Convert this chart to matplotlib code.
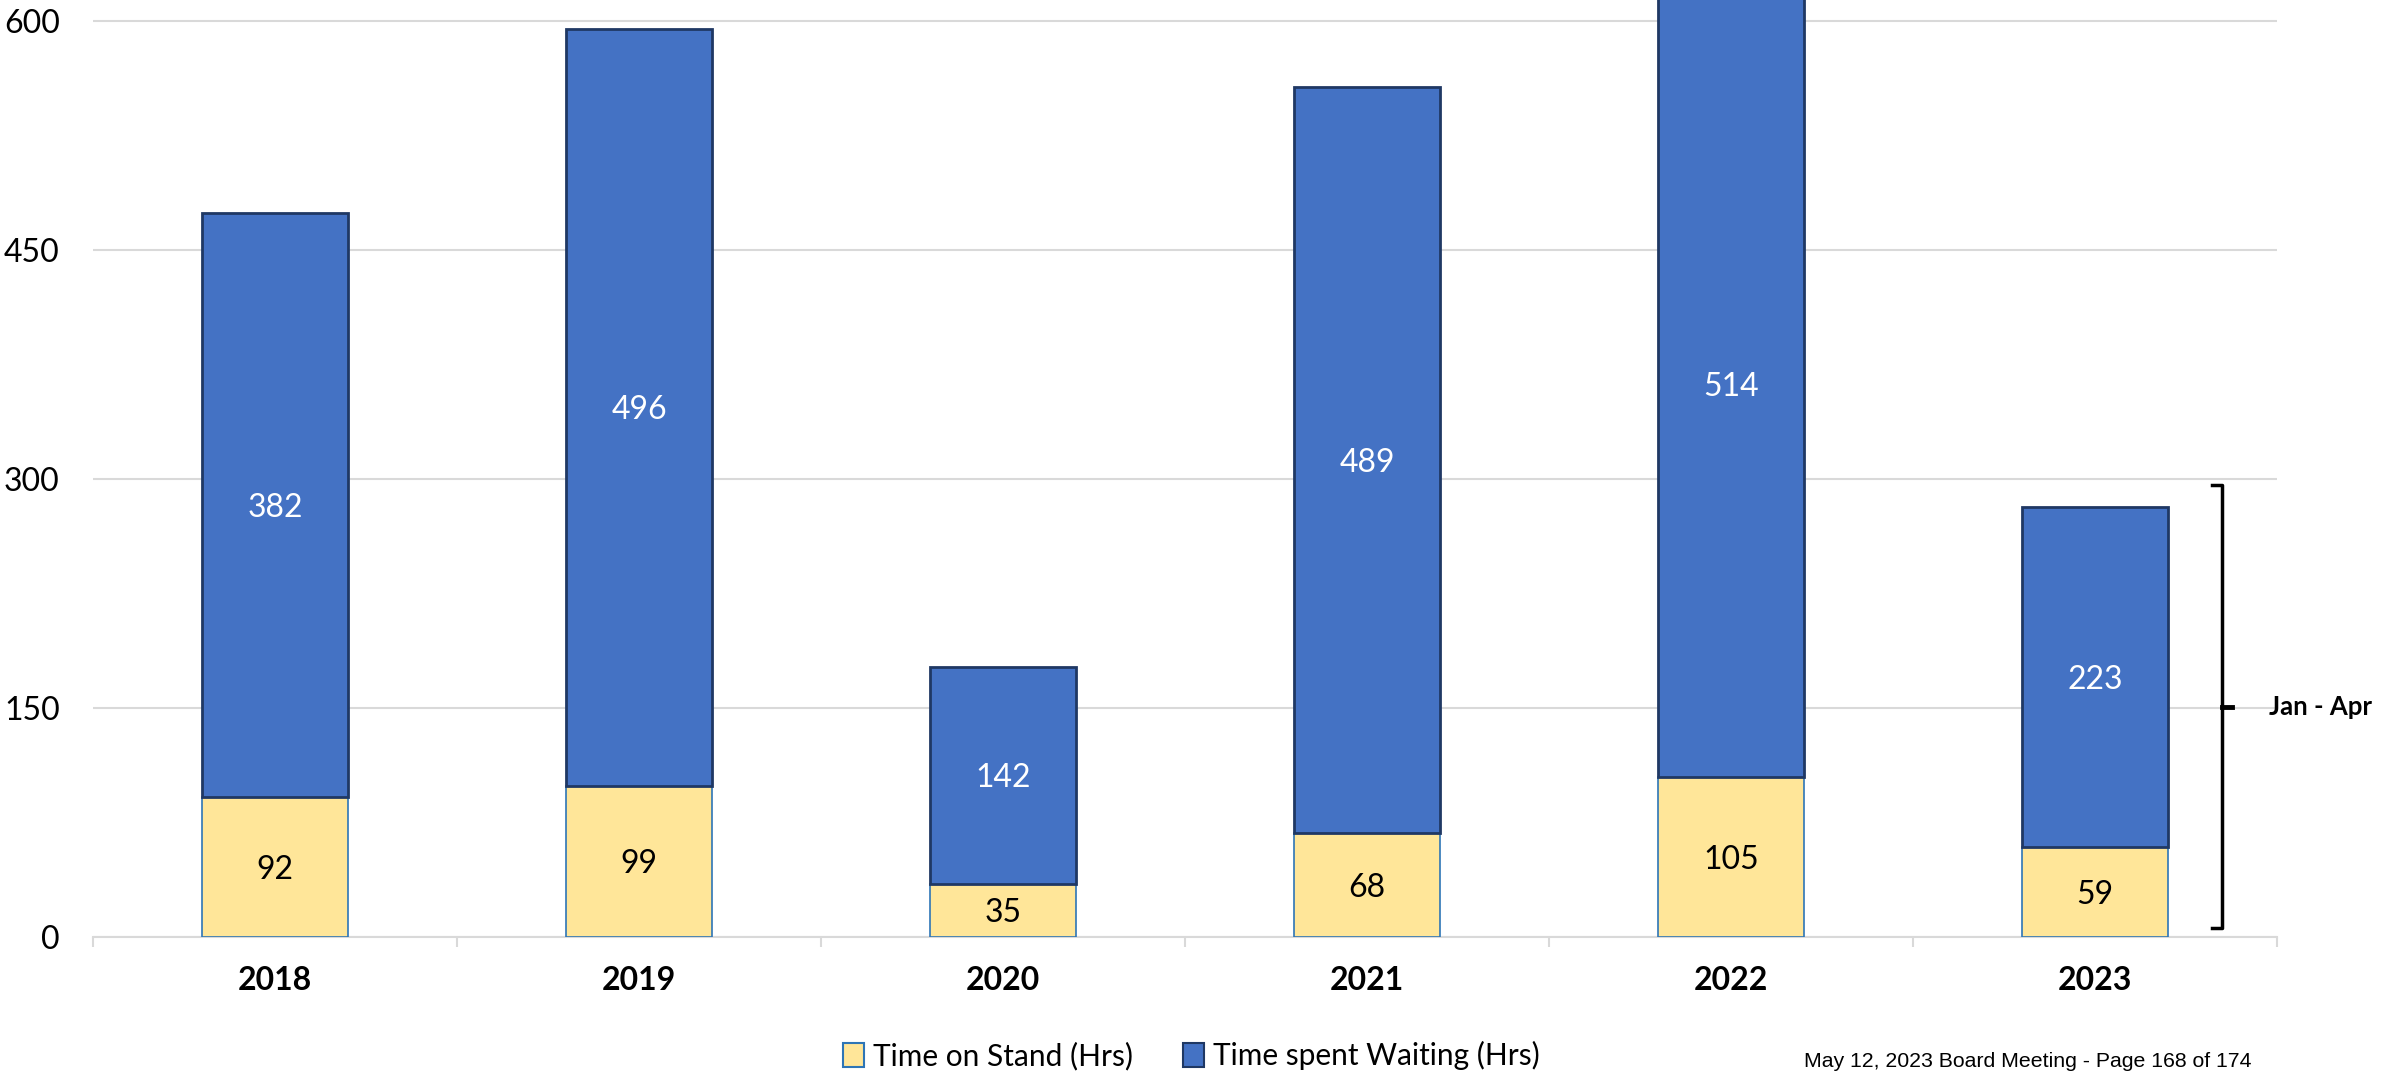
import matplotlib
matplotlib.use("Agg")
import matplotlib.pyplot as plt
from matplotlib.patches import Patch
import numpy as np

plt.rcParams['font.family'] = ['Lato', 'DejaVu Sans']

years = ['2018', '2019', '2020', '2021', '2022', '2023']
time_on_stand = [92, 99, 35, 68, 105, 59]
time_waiting = [382, 496, 142, 489, 514, 223]
y_ticks = [0, 150, 300, 450, 600]

yellow = '#FFE699'
blue = '#4472C4'

fig = plt.figure(figsize=(23.97, 10.73), dpi=100)
ax = fig.add_axes([0.0388, 0.1267, 0.9112, 0.8733])

x = np.arange(len(years))
stand = np.array(time_on_stand)
wait = np.array(time_waiting)

ax.bar(x, stand, width=0.4, color=yellow, edgecolor='#2E75B6', linewidth=1.2, zorder=3)
ax.bar(x, wait, width=0.4, bottom=stand, color=blue, edgecolor='#1F3864', linewidth=2, zorder=3)

# value labels, centred in each segment
for i in range(len(years)):
    ax.text(x[i], stand[i] / 2, str(stand[i]), ha='center', va='center_baseline',
            fontsize=23, color='black', zorder=4)
    ax.text(x[i], stand[i] + wait[i] / 2, str(wait[i]), ha='center', va='center_baseline',
            fontsize=23, color='white', zorder=4)

ax.set_xlim(-0.5, len(years) - 0.5)
ax.set_ylim(0, 613.75)
ax.set_yticks(y_ticks)
ax.set_yticklabels([str(v) for v in y_ticks], fontsize=23)
ax.tick_params(axis='y', length=0, pad=24)
ax.yaxis.grid(True, color='#D9D9D9', linewidth=1.5, zorder=0)

ax.set_xticks(x)
ax.set_xticklabels(years, fontsize=23, fontweight='bold')
ax.set_xticks(np.arange(-0.5, len(years)), minor=True)
ax.tick_params(axis='x', which='major', length=0, pad=21)
ax.tick_params(axis='x', which='minor', length=7, color='#D9D9D9', width=1.5)

for s in ['left', 'top', 'right']:
    ax.spines[s].set_visible(False)
ax.spines['bottom'].set_color('#D9D9D9')
ax.spines['bottom'].set_linewidth(1.5)

# bracket for partial year 2023
bx = 5.349
ax.plot([bx - 0.028, bx, bx, bx - 0.028], [296, 296, 6, 6], color='black',
        linewidth=2.5, clip_on=False, zorder=5)
ax.plot([bx, bx + 0.028], [150.6, 150.6], color='black', linewidth=3.5,
        clip_on=False, zorder=5)
ax.text(5.478, 150.6, 'Jan - Apr', fontsize=18.5, fontweight='bold', ha='left',
        va='center', clip_on=False)

handles = [Patch(facecolor=yellow, edgecolor='#2E75B6', linewidth=1.5),
           Patch(facecolor=blue, edgecolor='#1F3864', linewidth=1.5)]
fig.legend(handles, ['Time on Stand (Hrs)', 'Time spent Waiting (Hrs)'],
           loc='center', bbox_to_anchor=(0.497, 0.016), ncol=2, frameon=False,
           fontsize=21.5, handlelength=0.7, handleheight=0.9, handletextpad=0.3,
           columnspacing=1.7)

fig.text(0.7525, 0.0105, 'May 12, 2023 Board Meeting - Page 168 of 174',
         family='Liberation Sans', fontsize=15.3, ha='left', va='center')

fig.savefig('out.png', dpi=100)
